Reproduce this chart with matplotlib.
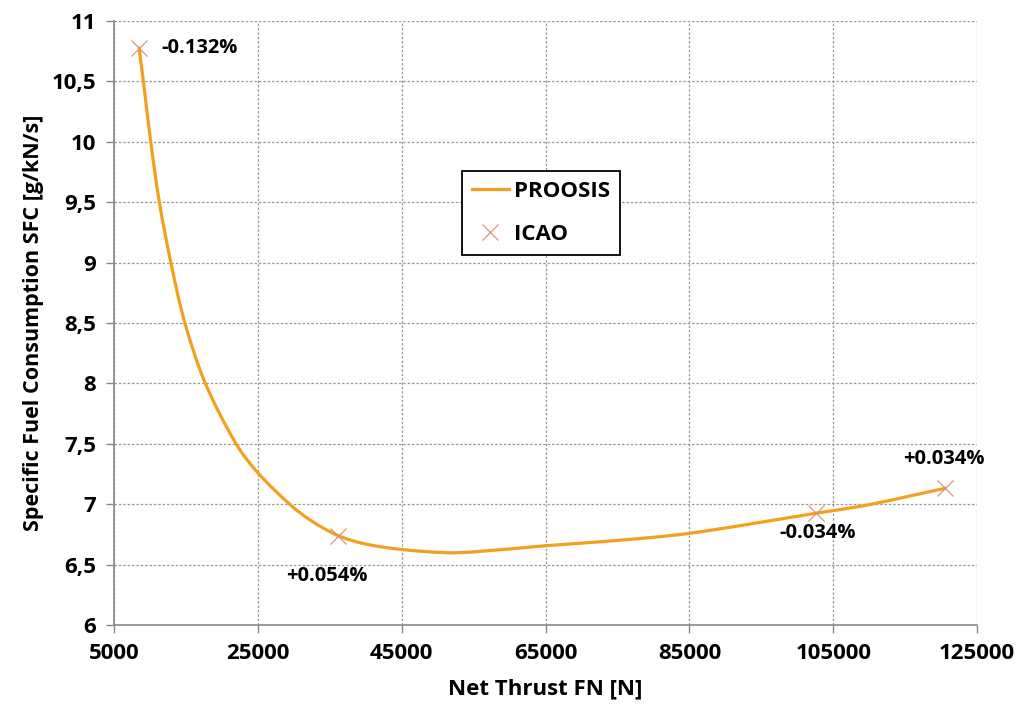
import numpy as np
import matplotlib.pyplot as plt
from matplotlib.ticker import FuncFormatter
from matplotlib.path import Path
from matplotlib.patches import PathPatch
from matplotlib.lines import Line2D

# PROOSIS curve
proosis_fn = [8480, 9080, 10100, 11300, 12900, 14850, 17700, 21970, 25000,
              29600, 32500, 36150, 40000, 45000, 51260, 55000, 65000, 75000, 85000,
              102600, 109700, 120580]
proosis_sfc = [10.776, 10.5, 10.0, 9.5, 9.0, 8.5, 8.0, 7.5, 7.26,
               6.99, 6.86, 6.74, 6.67, 6.625, 6.598, 6.605, 6.656, 6.70, 6.759,
               6.925, 6.993, 7.132]

# ICAO points and deviations
icao_fn = [8480, 36150, 102600, 120580]
icao_sfc = [10.776, 6.74, 6.925, 7.132]
icao_err = ["-0.132%", "+0.054%", "-0.034%", "+0.034%"]

plt.rcParams['font.family'] = ['Open Sans', 'DejaVu Sans']

fig = plt.figure(figsize=(10.2, 7.09), dpi=100)
ax = fig.add_axes([0.1118, 0.1185, 0.8462, 0.8519])
ax.set_xlim(5000, 125000)
ax.set_ylim(6, 11)


def smooth_path(xs, ys):
    # smoothed line through the points (chord-length cardinal spline as Beziers)
    sx, sy = 120000.0 / 863, 5.0 / 604   # data units per pixel
    q = np.column_stack([xs, ys]).astype(float) / [sx, sy]
    n = len(q)
    d = np.hypot(*np.diff(q, axis=0).T)
    tang = np.zeros_like(q)
    tang[0] = (q[1] - q[0]) / d[0]
    tang[-1] = (q[-1] - q[-2]) / d[-1]
    for i in range(1, n - 1):
        tang[i] = (q[i + 1] - q[i - 1]) / (d[i - 1] + d[i])
    verts = [q[0]]
    codes = [Path.MOVETO]
    for i in range(n - 1):
        verts += [q[i] + tang[i] * d[i] / 3, q[i + 1] - tang[i + 1] * d[i] / 3, q[i + 1]]
        codes += [Path.CURVE4] * 3
    return Path(np.array(verts) * [sx, sy], codes)


line_color = '#F2A01E'
ax.add_patch(PathPatch(smooth_path(proosis_fn, proosis_sfc), fill=False,
                       edgecolor=line_color, lw=2.3, zorder=3,
                       capstyle='round', joinstyle='round'))
ax.plot(icao_fn, icao_sfc, ls='none', marker='x', ms=12, mew=0.9,
        color='#D9967A', zorder=4)

# label offsets in points
offsets = [(16, 0), (-8, -29), (1, -14), (-1, 21)]
aligns = ['left', 'center', 'center', 'center']
for x, y, t, off, ha in zip(icao_fn, icao_sfc, icao_err, offsets, aligns):
    ax.annotate(t, (x, y), xytext=off, textcoords='offset points',
                ha=ha, va='center', fontsize=14.5, fontweight='bold')

ax.set_xticks(np.arange(5000, 125001, 20000))
ax.set_yticks(np.arange(6, 11.01, 0.5))
ax.yaxis.set_major_formatter(FuncFormatter(lambda v, p: f"{v:g}".replace('.', ',')))
ax.grid(True, color='#999999', ls=(0, (2, 1.5)), lw=0.9)
ax.set_axisbelow(True)

for s in ['top', 'right']:
    ax.spines[s].set_visible(False)
for s in ['left', 'bottom']:
    ax.spines[s].set_color('#888888')
    ax.spines[s].set_linewidth(1.2)
ax.tick_params(direction='out', length=6, width=1, color='#888888',
               labelsize=16, pad=7)
for lab in ax.get_xticklabels() + ax.get_yticklabels():
    lab.set_fontweight('bold')

ax.set_xlabel("Net Thrust FN [N]", fontsize=16, fontweight='bold', labelpad=10)
ax.set_ylabel("Specific Fuel Consumption SFC [g/kN/s]", fontsize=15.5,
              fontweight='bold', labelpad=5)

handles = [Line2D([], [], color=line_color, lw=2.3),
           Line2D([], [], ls='none', marker='x', ms=12, mew=0.9, color='#D9967A')]
leg = ax.legend(handles, ['PROOSIS', 'ICAO'], loc='lower left',
                bbox_to_anchor=(0.403, 0.6126), borderaxespad=0,
                fancybox=False, framealpha=1, edgecolor='black',
                prop={'size': 16, 'weight': 'bold'},
                handlelength=1.65, borderpad=0.46, labelspacing=0.98,
                handletextpad=0.22)
leg.get_frame().set_linewidth(1.3)

fig.savefig('out.png', dpi=100)
